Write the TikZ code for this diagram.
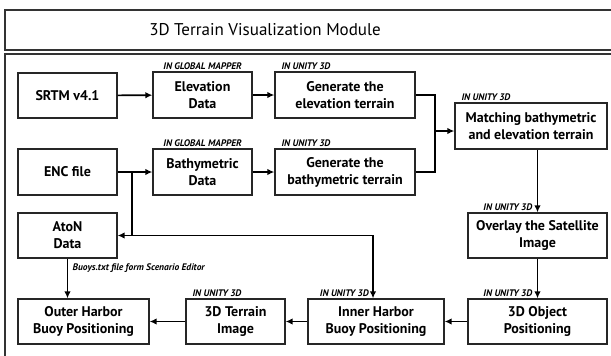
\documentclass[tikz,border=0pt]{standalone}
\usepackage{fontspec}
\setmainfont{PT Sans}
\usepackage{tikz}
\usetikzlibrary{positioning,arrows.meta,calc}

\begin{document}
\begin{tikzpicture}[x=1pt,y=-1pt,>={Latex[length=7pt,width=6.5pt]},
    box/.style={draw=black!85,line width=1.3pt,fill=white,align=center,inner sep=0pt,
      font=\fontsize{14}{17}\selectfont\bfseries},
    tag/.style={inner sep=1pt,font=\fontsize{9.5}{10}\selectfont\bfseries\itshape},
    flow/.style={->,line width=1.6pt}]
  \useasboundingbox (0,0) rectangle (611,356);
  \clip (0,0) rectangle (611,356);

  % frames
  \draw[line width=1.3pt,black!80] (5,10) rectangle (625,50);
  \draw[line width=1.3pt,black!80] (5,54) rectangle (625,365);
  \node (title) at (265,30) {\fontsize{17}{20}\selectfont 3D Terrain Visualization Module};

  % boxes
  \node[box,minimum width=99pt,minimum height=45pt] (srtm) at (67.5,95.5) {SRTM v4.1};
  \node[box,minimum width=99pt,minimum height=46pt] (elev) at (202.5,95) {Elevation\\Data};
  \node[box,minimum width=140pt,minimum height=46pt] (genelev) at (345,95) {Generate the\\elevation terrain};
  \node[box,minimum width=99pt,minimum height=46pt] (enc) at (67.5,172) {ENC file};
  \node[box,minimum width=99pt,minimum height=46pt] (bathy) at (202.5,172) {Bathymetric\\Data};
  \node[box,minimum width=140pt,minimum height=46pt] (genbathy) at (345,172) {Generate the\\bathymetric terrain};
  \node[box,minimum width=152pt,minimum height=46pt] (match) at (531,126) {Matching bathymetric\\and elevation terrain};
  \node[box,minimum width=139pt,minimum height=45pt] (overlay) at (537.5,235.5) {Overlay the Satellite\\Image};
  \node[box,minimum width=99pt,minimum height=45pt] (aton) at (67.5,235.5) {AtoN\\Data};
  \node[box,minimum width=139pt,minimum height=45pt] (obj) at (537.5,321.5) {3D Object\\Positioning};
  \node[box,minimum width=136pt,minimum height=45pt] (inner) at (376,321.5) {Inner Harbor\\Buoy Positioning};
  \node[box,minimum width=99pt,minimum height=45pt] (terrain) at (235.5,321.5) {3D Terrain\\Image};
  \node[box,minimum width=131pt,minimum height=45pt] (outer) at (83.5,321.5) {Outer Harbor\\Buoy Positioning};

  % tags
  \node[tag,above=1pt of elev] (elevtag) {IN GLOBAL MAPPER};
  \node[tag,above=1pt of bathy] (bathytag) {IN GLOBAL MAPPER};
  \node[tag,anchor=south west] (genelevtag) at ($(genelev.north west)+(6,-1)$) {IN UNITY 3D};
  \node[tag,anchor=south west] (genbathytag) at ($(genbathy.north west)+(6,-1)$) {IN UNITY 3D};
  \node[tag,anchor=south west] (matchtag) at ($(match.north west)+(6,-1)$) {IN UNITY 3D};
  \node[tag,anchor=south east] (overlaytag) at ($(overlay.north)+(-4,-1)$) {IN UNITY 3D};
  \node[tag,anchor=south east] (objtag) at ($(obj.north)+(-4,-1)$) {IN UNITY 3D};
  \node[tag,anchor=south east] (innertag) at ($(inner.north)+(-6,-1)$) {IN UNITY 3D};
  \node[tag,anchor=south west] (terraintag) at ($(terrain.north west)+(6,-1)$) {IN UNITY 3D};
  \node[tag,anchor=north west] (buoytag) at ($(aton.south)+(4,4)$) {Buoys.txt file form Scenario Editor};

  % flows
  \coordinate (join) at (435,131);
  \coordinate (split) at (132,172);
  \draw[flow] (srtm) -- (elev);
  \draw[flow] (elev) -- (genelev);
  \draw[flow] (enc) -- (bathy);
  \draw[flow] (bathy) -- (genbathy);
  \draw[line width=1.6pt] (genelev.east) -| (join) |- (genbathy.east);
  \draw[flow] (join) -- (match.west |- join);
  \draw[flow] (match.south -| overlay.north) -- (overlay.north);
  \draw[flow] (overlay) -- (obj);
  \draw[flow] (obj) -- (inner);
  \draw[flow] (inner) -- (terrain);
  \draw[flow] (terrain) -- (outer);
  \draw[flow] (aton) -- (aton.south |- outer.north);
  \draw[flow] (split) |- (aton.east);
  \draw[flow] (split) |- ($(inner.north |- aton.east)+(-3,0)$) -- ($(inner.north)+(-3,0)$);
\end{tikzpicture}
\end{document}
